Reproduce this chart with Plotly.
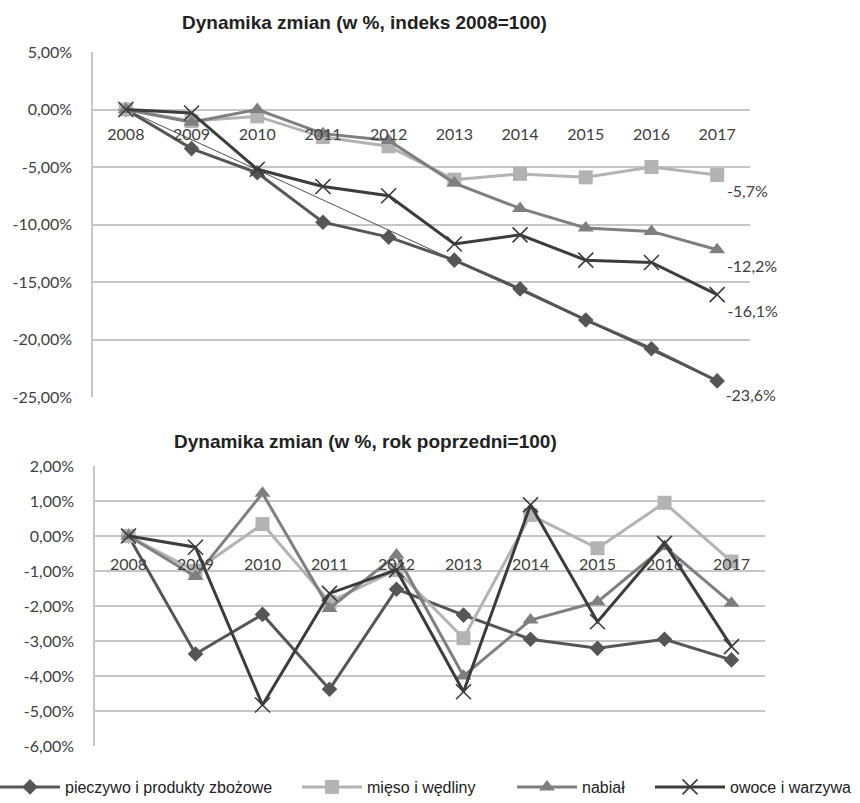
import plotly.graph_objects as go

years = ["2008", "2009", "2010", "2011", "2012", "2013", "2014", "2015", "2016", "2017"]
series_names = ["pieczywo i produkty zbożowe", "mięso i wędliny", "nabiał", "owoce i warzywa"]

# Top chart: cumulative change (index 2008=100), in %
top_pieczywo = [0.0, -3.4, -5.5, -9.8, -11.1, -13.1, -15.6, -18.3, -20.8, -23.6]
top_mieso = [0.0, -1.0, -0.6, -2.4, -3.2, -6.1, -5.6, -5.9, -5.0, -5.7]
top_nabial = [0.0, -1.1, 0.0, -2.1, -2.7, -6.4, -8.6, -10.3, -10.6, -12.2]
top_owoce = [0.0, -0.3, -5.2, -6.7, -7.5, -11.7, -10.9, -13.1, -13.3, -16.1]
top_labels = ["-23,6%", "-5,7%", "-12,2%", "-16,1%"]
trend_x = ["2008", "2017"]
trend_y = [0.0, -23.6]

# Bottom chart: year-on-year change (previous year=100), in %
bot_pieczywo = [0.0, -3.37, -2.24, -4.38, -1.52, -2.26, -2.95, -3.21, -2.95, -3.54]
bot_mieso = [0.0, -1.0, 0.34, -1.88, -0.97, -2.92, 0.6, -0.35, 0.95, -0.73]
bot_nabial = [0.0, -1.16, 1.22, -2.07, -0.54, -4.0, -2.4, -1.88, -0.3, -1.92]
bot_owoce = [0.0, -0.32, -4.83, -1.64, -0.97, -4.45, 0.89, -2.45, -0.21, -3.16]

top_tickvals = [5, 0, -5, -10, -15, -20, -25]
top_ticktext = ["5,00%", "0,00%", "-5,00%", "-10,00%", "-15,00%", "-20,00%", "-25,00%"]
bot_tickvals = [2, 1, 0, -1, -2, -3, -4, -5, -6]
bot_ticktext = ["2,00%", "1,00%", "0,00%", "-1,00%", "-2,00%", "-3,00%", "-4,00%", "-5,00%", "-6,00%"]

title_top = "Dynamika zmian (w %, indeks 2008=100)"
title_bot = "Dynamika zmian (w %, rok poprzedni=100)"

colors = ["#565656", "#b3b3b3", "#7f7f7f", "#3c3c3c"]
symbols = ["diamond", "square", "triangle-up", "x-thin"]
msizes = [12, 14, 14, 15]

W, H = 860, 803
def px_x(v):
    return v / W
def px_y(v):
    return 1 - v / H

top_dom_y = [px_y(397), px_y(52)]
bot_dom_y = [px_y(746), px_y(466)]
top_dom_x = [px_x(93), px_x(750)]
bot_dom_x = [px_x(95), px_x(765)]

BASE_FONT = "Lato, Calibri, Carlito, sans-serif"
TITLE_FONT = "Liberation Sans, Arial, sans-serif"
TXT = "#404040"

legend_ids = ["legend", "legend2", "legend3", "legend4"]
legend_left_px = [-5, 297, 512, 650]
legend_itemw = [60, 60, 60, 70]

fig = go.Figure()

top_data = [top_pieczywo, top_mieso, top_nabial, top_owoce]
bot_data = [bot_pieczywo, bot_mieso, bot_nabial, bot_owoce]

def marker(i):
    return dict(symbol=symbols[i], size=msizes[i], color=colors[i],
                line=dict(color=colors[i], width=1.6 if symbols[i] == "x-thin" else 0))

for i, name in enumerate(series_names):
    txt = [""] * (len(years) - 1) + [top_labels[i]]
    fig.add_trace(go.Scatter(x=years, y=top_data[i], mode="lines+markers+text", name=name,
                             xaxis="x", yaxis="y", text=txt, textposition="bottom right",
                             textfont=dict(family=BASE_FONT, size=16, color=TXT),
                             line=dict(color=colors[i], width=3), marker=marker(i),
                             legend=legend_ids[i], legendgroup=name, showlegend=True,
                             cliponaxis=False))
    if i == 0:
        # thin linear trend line of the first series
        fig.add_trace(go.Scatter(x=trend_x, y=trend_y, mode="lines", xaxis="x", yaxis="y",
                                 line=dict(color="#505050", width=1), showlegend=False,
                                 hoverinfo="skip"))
for i, name in enumerate(series_names):
    fig.add_trace(go.Scatter(x=years, y=bot_data[i], mode="lines+markers", name=name,
                             xaxis="x2", yaxis="y2",
                             line=dict(color=colors[i], width=3), marker=marker(i),
                             legendgroup=name, showlegend=False, cliponaxis=False))

grid = "#c6c6c6"
tick_font = dict(family=BASE_FONT, size=16, color=TXT)

def xpos(dom, lo, hi):
    return dom[0] + (0 - lo) / (hi - lo) * (dom[1] - dom[0])

common_x = dict(type="category", categoryorder="array", categoryarray=years,
                showgrid=False, showline=False, zeroline=False, ticks="outside",
                tickcolor="rgba(0,0,0,0)", tickfont=tick_font, range=[-0.5, 9.5],
                automargin=False)
common_y = dict(showgrid=True, gridcolor=grid, gridwidth=1.5, zeroline=False,
                showline=True, linecolor=grid, linewidth=1.5, tickfont=tick_font,
                ticks="outside", ticklen=16, tickcolor="rgba(0,0,0,0)", automargin=False)

legend_font = dict(family="Liberation Sans, Arial, sans-serif", size=16, color="#222222")
legends = {}
for i, lid in enumerate(legend_ids):
    legends[lid] = dict(orientation="h", x=px_x(legend_left_px[i]), xanchor="left",
                        y=px_y(787), yanchor="middle", font=legend_font,
                        itemwidth=legend_itemw[i], bgcolor="rgba(0,0,0,0)")

fig.update_layout(
    width=W, height=H,
    margin=dict(l=0, r=0, t=0, b=0, autoexpand=False),
    plot_bgcolor="white", paper_bgcolor="white",
    font=dict(family=BASE_FONT, color=TXT),
    xaxis=dict(domain=top_dom_x, anchor="free", position=xpos(top_dom_y, -25, 5),
               ticklen=10, **common_x),
    yaxis=dict(domain=top_dom_y, anchor="x", range=[-25, 5], tickvals=top_tickvals,
               ticktext=top_ticktext, **common_y),
    xaxis2=dict(domain=bot_dom_x, anchor="free", position=xpos(bot_dom_y, -6, 2),
                ticklen=14, **common_x),
    yaxis2=dict(domain=bot_dom_y, anchor="x2", range=[-6, 2], tickvals=bot_tickvals,
                ticktext=bot_ticktext, **common_y),
    showlegend=True,
    annotations=[
        dict(text="<b>" + title_top + "</b>", x=px_x(364), y=px_y(22), xref="paper", yref="paper",
             showarrow=False, xanchor="center", yanchor="middle",
             font=dict(family=TITLE_FONT, size=19, color="#222222")),
        dict(text="<b>" + title_bot + "</b>", x=px_x(365), y=px_y(441), xref="paper", yref="paper",
             showarrow=False, xanchor="center", yanchor="middle",
             font=dict(family=TITLE_FONT, size=19, color="#222222")),
    ],
    **legends,
)

fig.write_html("out.html", config={"displayModeBar": False},
               post_script="document.body.style.margin='0';")
